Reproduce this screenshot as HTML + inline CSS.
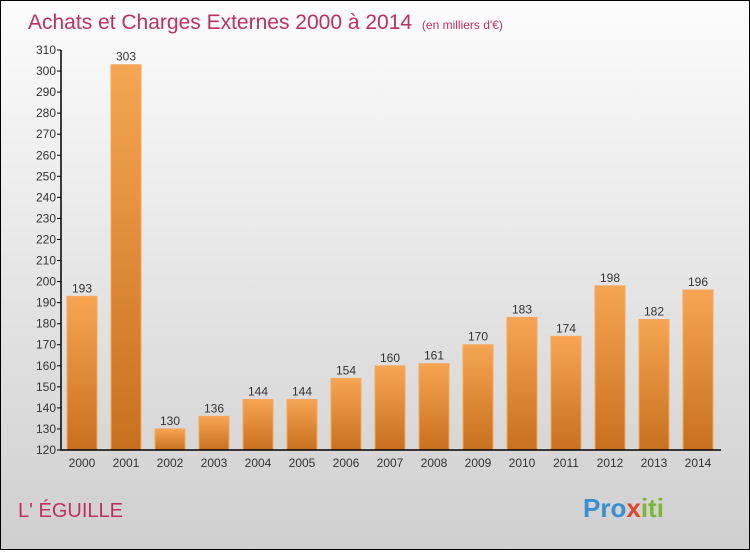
<!DOCTYPE html>
<html><head><meta charset="utf-8"><style>
body{margin:0;width:750px;height:550px;overflow:hidden}
#c{position:relative;width:748px;height:548px;border:1px solid #000;background:linear-gradient(#fcfcfc,#cfcfcf)}
text{font-family:"Liberation Sans",sans-serif}
</style></head><body>
<div id="c">
<svg id="s" width="748" height="548">
<defs><linearGradient id="g" x1="0" y1="0" x2="0" y2="1"><stop offset="0" stop-color="#f7a552"/><stop offset="1" stop-color="#c8701e"/></linearGradient></defs>
<text x="27" y="28" font-size="21" fill="#c0305e">Achats et Charges Externes 2000 à 2014 <tspan font-size="12" dx="4">(en milliers d'€)</tspan></text>
<text x="17" y="516" font-size="20" fill="#c0305e">L' ÉGUILLE</text>
<text x="582" y="516" font-size="26" font-weight="bold" fill="#3a8fd0">Pro<tspan fill="#e0442a">x</tspan><tspan fill="#7ab830">iti</tspan></text>
</svg></div>
<script>
const years=["2000","2001","2002","2003","2004","2005","2006","2007","2008","2009","2010","2011","2012","2013","2014"];
const values=[193,303,130,136,144,144,154,160,161,170,183,174,198,182,196];
const yTicks=[120,130,140,150,160,170,180,190,200,210,220,230,240,250,260,270,280,290,300,310];
const s=document.getElementById('s'),NS='http://www.w3.org/2000/svg';
const y=v=>449-(v-120)*400/190, x=i=>66+i*44;
function mk(t,a,txt){const e=document.createElementNS(NS,t);for(const k in a)e.setAttribute(k,a[k]);if(txt!=null)e.textContent=txt;s.appendChild(e);return e;}
yTicks.forEach(v=>{
const l=mk('line',{x1:56,x2:60,y1:y(v),y2:y(v),stroke:'#000'});


const t=mk('text',{x:55,y:y(v)+4,'font-size':12,fill:'#333','text-anchor':'end'},v);


});
values.forEach((v,i)=>{
const r=mk('rect',{x:x(i),y:y(v),width:30,height:y(120)-y(v),fill:'url(#g)',stroke:'#f5a860','stroke-width':1});


const t=mk('text',{x:x(i)+15,y:y(v)-4,'font-size':12,fill:'#333','text-anchor':'middle'},v);


const yl=mk('text',{x:x(i)+15,y:466,'font-size':12,fill:'#333','text-anchor':'middle'},years[i]);


});
const ax=mk('path',{d:'M60 49V449H720',stroke:'#000','stroke-width':1.5,fill:'none'});


</script>
</body></html>
